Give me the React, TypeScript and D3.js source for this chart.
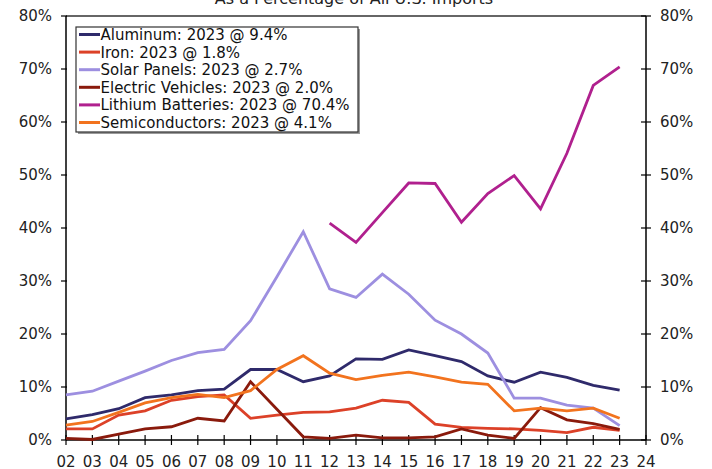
import React from "react";
import * as d3 from "d3";

const years = [2, 3, 4, 5, 6, 7, 8, 9, 10, 11, 12, 13, 14, 15, 16, 17, 18, 19, 20, 21, 22, 23];
const lithiumYears = [12, 13, 14, 15, 16, 17, 18, 19, 20, 21, 22, 23];

const aluminum = [4.0, 4.8, 5.9, 8.0, 8.5, 9.3, 9.6, 13.3, 13.3, 11.0, 12.1, 15.3, 15.2, 17.0, 15.9, 14.8, 12.1, 10.9, 12.8, 11.8, 10.3, 9.4];
const iron = [2.1, 2.1, 4.7, 5.5, 7.5, 8.2, 8.5, 4.1, 4.7, 5.2, 5.3, 6.0, 7.5, 7.1, 3.0, 2.4, 2.2, 2.1, 1.8, 1.4, 2.4, 1.8];
const solar = [8.5, 9.2, 11.1, 13.0, 15.0, 16.5, 17.1, 22.5, 30.8, 39.3, 28.5, 26.9, 31.3, 27.5, 22.6, 20.0, 16.4, 7.9, 7.9, 6.6, 6.0, 2.7];
const ev = [0.3, 0.1, 1.1, 2.1, 2.5, 4.1, 3.6, 11.0, 5.8, 0.6, 0.3, 0.9, 0.4, 0.4, 0.6, 2.1, 0.9, 0.3, 6.1, 3.8, 3.1, 2.0];
const lithium = [40.9, 37.3, 42.9, 48.5, 48.4, 41.1, 46.5, 49.9, 43.6, 54.1, 66.9, 70.4];
const semis = [2.8, 3.5, 5.2, 7.0, 8.0, 8.6, 8.0, 9.3, 13.3, 15.9, 12.6, 11.4, 12.2, 12.8, 11.9, 10.9, 10.5, 5.5, 6.0, 5.5, 6.0, 4.1];

const seriesNames = [
  "Aluminum: 2023 @ 9.4%",
  "Iron: 2023 @ 1.8%",
  "Solar Panels: 2023 @ 2.7%",
  "Electric Vehicles: 2023 @ 2.0%",
  "Lithium Batteries: 2023 @ 70.4%",
  "Semiconductors: 2023 @ 4.1%",
];
const seriesColors = ["#2f2a6b", "#dc4128", "#9d8fe0", "#8a1a0c", "#b0208e", "#f2731e"];

const xTicks = d3.range(2, 25);
const yTicks = [0, 10, 20, 30, 40, 50, 60, 70, 80];
const title = "As a Percentage of All U.S. Imports";

export default function App() {
  const W = 712, H = 469;
  const left = 66, right = 646, top = 16, bottom = 440;
  const x = d3.scaleLinear().domain([2, 24]).range([left, right]);
  const y = d3.scaleLinear().domain([0, 80]).range([bottom, top]);
  const font = "'DejaVu Sans', Verdana, sans-serif";

  const series = [
    { xs: years, vs: aluminum },
    { xs: years, vs: iron },
    { xs: years, vs: solar },
    { xs: years, vs: ev },
    { xs: lithiumYears, vs: lithium },
    { xs: years, vs: semis },
  ];

  const line = d3
    .line<[number, number]>()
    .x((d) => x(d[0]))
    .y((d) => y(d[1]));

  const legX = 76, legY = 27, legW = 282, legH = 105;
  const rowY0 = 34.5, rowStep = 17.6;

  return (
    <svg
      width={W}
      height={H}
      style={{ position: "absolute", left: 0, top: 0, background: "#fff" }}
      fontFamily={font}
    >
      <rect x={0} y={0} width={W} height={H} fill="#fff" />
      <text x={354} y={4} fontSize={16} textAnchor="middle" fill="#222">
        {title}
      </text>
      {/* frame */}
      <line x1={left} x2={right} y1={top} y2={top} stroke="#333" strokeWidth={1.5} />
      <line x1={left} x2={right} y1={bottom} y2={bottom} stroke="#000" strokeWidth={1.5} />
      <line x1={left} x2={left} y1={top} y2={bottom} stroke="#000" strokeWidth={1.5} />
      <line x1={right} x2={right} y1={top} y2={bottom} stroke="#000" strokeWidth={1.5} />
      {/* y ticks */}
      {yTicks.map((t) => (
        <g key={"y" + t}>
          <line x1={left - 5} x2={left + 1} y1={y(t)} y2={y(t)} stroke="#000" strokeWidth={1.2} />
          <line x1={right - 5} x2={right + 5} y1={y(t)} y2={y(t)} stroke="#000" strokeWidth={1.2} />
          <text x={52} y={y(t)} dy="0.36em" fontSize={15} textAnchor="end" fill="#222">
            {t}%
          </text>
          <text x={660} y={y(t)} dy="0.36em" fontSize={15} textAnchor="start" fill="#222">
            {t}%
          </text>
        </g>
      ))}
      {/* x ticks */}
      {xTicks.map((t) => (
        <g key={"x" + t}>
          <line x1={x(t)} x2={x(t)} y1={bottom - 5} y2={bottom + 5} stroke="#000" strokeWidth={1.2} />
          <text x={x(t)} y={462} dy="0.36em" fontSize={15} textAnchor="middle" fill="#222">
            {String(t).padStart(2, "0")}
          </text>
        </g>
      ))}
      {/* series */}
      {series.map((s, i) => (
        <path
          key={"s" + i}
          d={line(s.xs.map((xv, j) => [xv, s.vs[j]] as [number, number])) || ""}
          fill="none"
          stroke={seriesColors[i]}
          strokeWidth={2.8}
          strokeLinejoin="miter"
        />
      ))}
      {/* legend */}
      <rect x={legX + 2} y={legY + 2} width={legW} height={legH} fill="#999" />
      <rect x={legX} y={legY} width={legW} height={legH} fill="#fff" stroke="#333" strokeWidth={1.2} />
      {seriesNames.map((n, i) => (
        <g key={"l" + i}>
          <line
            x1={79}
            x2={100}
            y1={rowY0 + i * rowStep}
            y2={rowY0 + i * rowStep}
            stroke={seriesColors[i]}
            strokeWidth={3}
          />
          <text x={100.5} y={rowY0 + i * rowStep} dy="0.36em" fontSize={15} fill="#111">
            {n}
          </text>
        </g>
      ))}
    </svg>
  );
}
